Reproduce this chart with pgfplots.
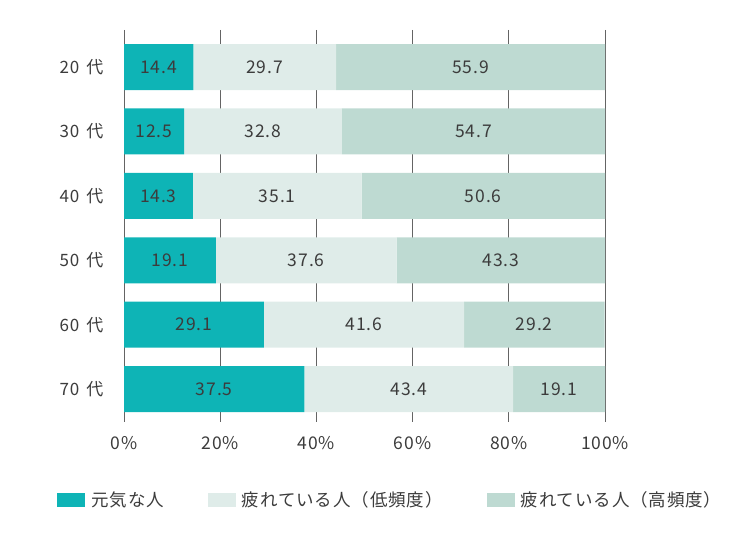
\documentclass[border=0pt]{standalone}
\usepackage{fontspec}
\setmainfont[LetterSpace=5]{Noto Sans CJK JP}
\usepackage{pgfplots}
\usepackage{pgfplotstable}
\pgfplotsset{compat=1.18}
\definecolor{cA}{RGB}{14,180,182}
\definecolor{cB}{RGB}{223,236,233}
\definecolor{cC}{RGB}{190,218,210}
\definecolor{tgray}{RGB}{60,60,60}
\definecolor{ggray}{RGB}{100,100,100}
\pgfplotstableread{
y a b c
0 14.4 29.7 55.9
1 12.5 32.8 54.7
2 14.3 35.1 50.6
3 19.1 37.6 43.3
4 29.1 41.6 29.2
5 37.5 43.4 19.1
}\data
\begin{document}
\begin{tikzpicture}[x=1pt,y=1pt]
\path[use as bounding box] (0,0) rectangle (739,534);
\pgfplotsset{
  base/.style={
    at={(124pt,112pt)}, anchor=south west,
    scale only axis, width=481pt, height=392pt,
    xmin=0, xmax=100, ymin=-0.575, ymax=5.51, y dir=reverse,
    /pgf/number format/assume math mode=true,
  }
}
\begin{axis}[base,
  xbar stacked, bar width=46pt,
  axis line style={draw=none},
  major tick length=0pt,
  xtick={0,20,40,60,80,100},
  xticklabels={0\%,20\%,40\%,60\%,80\%,100\%},
  xticklabel style={font=\fontsize{17.5}{20}\selectfont, text=tgray, yshift=-11pt},
  ytick={0,1,2,3,4,5},
  yticklabels={20\hspace{2.5pt} 代,30\hspace{2.5pt} 代,40\hspace{2.5pt} 代,50\hspace{2.5pt} 代,60\hspace{2.5pt} 代,70\hspace{2.5pt} 代},
  yticklabel style={font=\fontsize{17}{20}\selectfont, text=tgray, xshift=-17pt},
  xmajorgrids, grid style={ggray, line width=0.9pt},
  legend columns=3,
  legend style={at={(rel axis cs:-0.139,-0.199)}, anchor=west, draw=none, inner sep=0pt,
    font=\fontsize{17.5}{20}\selectfont, text=tgray,
    /tikz/every odd column/.append style={column sep=4pt},
    /tikz/every even column/.append style={column sep=42pt}},
  legend image code/.code={\fill[#1] (0pt,-7pt) rectangle (28pt,7pt);},
]
\addplot[fill=cA, draw=none] table[x=a, y=y] {\data};
\addlegendentry{元気な人}
\addplot[fill=cB, draw=none] table[x=b, y=y] {\data};
\addlegendentry{疲れている人（低頻度）}
\addplot[fill=cC, draw=none] table[x=c, y=y] {\data};
\addlegendentry{疲れている人（高頻度）}
\end{axis}
\begin{axis}[base, hide axis,
  nodes near coords={\pgfmathprintnumber[fixed,fixed zerofill,precision=1]{\pgfplotspointmeta}},
  every node near coord/.append style={anchor=center, font=\fontsize{17.5}{20}\selectfont, text=tgray},
]
\addplot[draw=none, mark=none, point meta=explicit] table[x expr=\thisrow{a}/2, y=y, meta=a] {\data};
\addplot[draw=none, mark=none, point meta=explicit] table[x expr=\thisrow{a}+\thisrow{b}/2, y=y, meta=b] {\data};
\addplot[draw=none, mark=none, point meta=explicit] table[x expr=\thisrow{a}+\thisrow{b}+\thisrow{c}/2, y=y, meta=c] {\data};
\end{axis}
\end{tikzpicture}
\end{document}
